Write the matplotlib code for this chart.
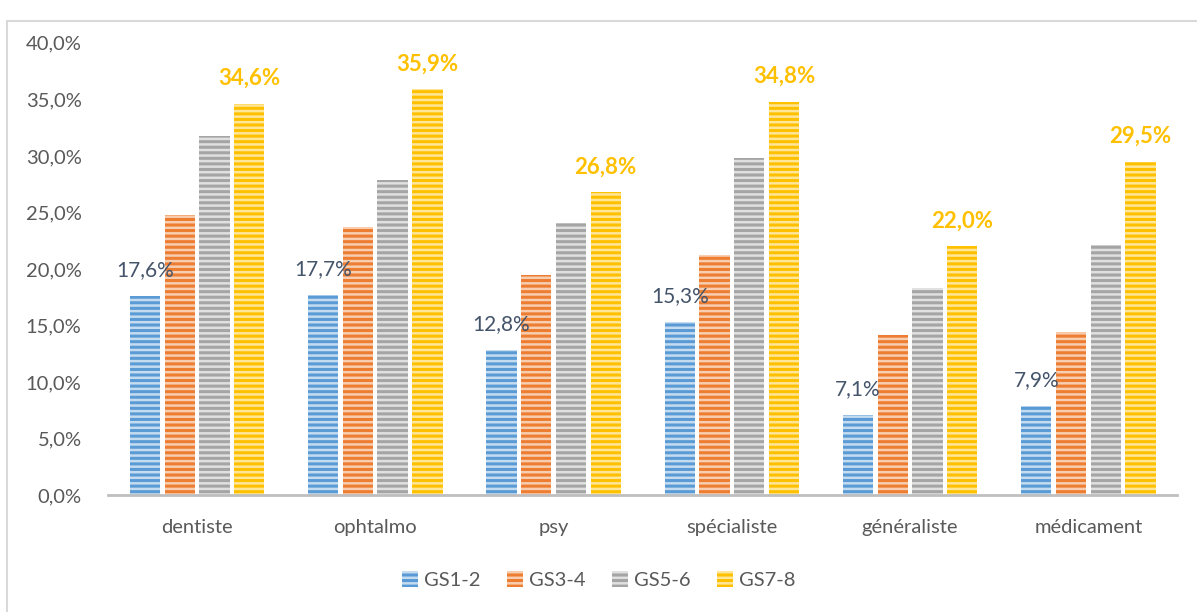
import matplotlib.pyplot as plt
import matplotlib.patches as mpatches
import numpy as np

# ===========================================
# DATA
# ===========================================

categories = ["dentiste", "ophtalmo", "psy", "spécialiste", "généraliste", "médicament"]

series_names = ["GS1-2", "GS3-4", "GS5-6", "GS7-8"]

gs12 = [17.6, 17.7, 12.8, 15.3, 7.1, 7.9]
gs34 = [24.8, 23.7, 19.5, 21.2, 14.2, 14.4]
gs56 = [31.8, 27.9, 24.1, 29.8, 18.3, 22.1]
gs78 = [34.6, 35.9, 26.8, 34.8, 22.0, 29.5]

yticks = [0, 5, 10, 15, 20, 25, 30, 35, 40]

# ===========================================
# STYLE
# ===========================================

plt.rcParams["font.family"] = ["Lato", "DejaVu Sans"]
plt.rcParams["hatch.linewidth"] = 2.2

main_colors = ["#5B9BD5", "#ED7D31", "#A5A5A5", "#FFC000"]
light_colors = ["#C5DCF0", "#F8CDB0", "#E0E0E0", "#FFE699"]

fig = plt.figure(figsize=(11.97, 6.12), dpi=100)
ax = fig.add_axes([0.0902, 0.191, 0.8935, 0.739])

# chart border
fig.patches.append(
    mpatches.Rectangle(
        (7 / 1197, -0.01), 1.02, 0.99 - 15 / 612 + 0.01,
        transform=fig.transFigure, fill=False,
        edgecolor="#D9D9D9", linewidth=1.5
    )
)

x = np.arange(len(categories))
width = 0.17
offsets = [-0.292, -0.097, 0.097, 0.292]
all_series = [gs12, gs34, gs56, gs78]

for i, vals in enumerate(all_series):
    ax.bar(
        x + offsets[i], vals, width,
        color=light_colors[i], edgecolor=main_colors[i],
        hatch="---", linewidth=0
    )

# labels for GS1-2
for xi, v in zip(x, gs12):
    ax.text(
        xi + offsets[0], v + 1.4, f"{v:.1f}%".replace(".", ","),
        ha="center", va="bottom", fontsize=15, color="#44546A"
    )

# labels for GS7-8
for xi, v in zip(x, gs78):
    ax.text(
        xi + offsets[3], v + 1.3, f"{v:.1f}%".replace(".", ","),
        ha="center", va="bottom", fontsize=16, color="#FFC000",
        fontweight="bold"
    )

ax.set_xlim(-0.5, len(categories) - 0.5)
ax.set_ylim(0, 40)
ax.set_yticks(yticks)
ax.set_yticklabels([f"{t:.1f}%".replace(".", ",") for t in yticks])
ax.set_xticks(x)
ax.set_xticklabels(categories)

ax.tick_params(axis="both", length=0, labelsize=14.5, colors="#595959")
ax.tick_params(axis="y", pad=19)
ax.tick_params(axis="x", pad=17)

for side in ["top", "right", "left"]:
    ax.spines[side].set_visible(False)
ax.spines["bottom"].set_color("#BFBFBF")
ax.spines["bottom"].set_linewidth(2)

handles = [
    mpatches.Patch(facecolor=light_colors[i], edgecolor=main_colors[i],
                   hatch="---", linewidth=0, label=series_names[i])
    for i in range(4)
]

fig.legend(
    handles=handles, loc="center", bbox_to_anchor=(0.5, 0.052),
    ncol=4, frameon=False, fontsize=14.5, handlelength=0.8,
    handleheight=0.8, handletextpad=0.3, columnspacing=1.3,
    labelcolor="#595959"
)

plt.savefig("out.png", dpi=100)
plt.close()
